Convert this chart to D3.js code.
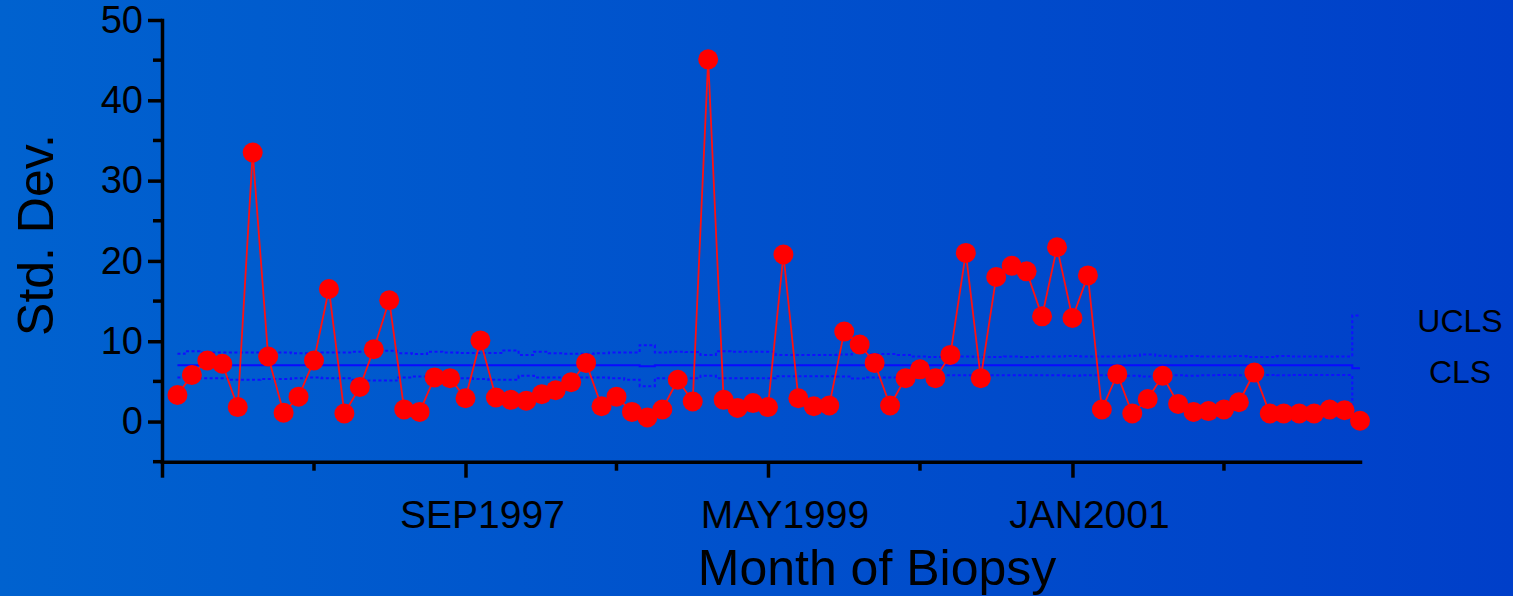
<!DOCTYPE html>
<html>
<head>
<meta charset="utf-8">
<script src="https://cdn.jsdelivr.net/npm/d3@7"></script>
<style>
  body { margin: 0; background: #0050ca; }
  text { font-family: "Liberation Sans", Arial, sans-serif; fill: #000; }
</style>
</head>
<body>
<div id="chart"></div>
<script>
// s-chart values, one subgroup per month (Feb 1996 .. Aug 2002)
const stdDev = [3.3, 5.8, 7.6, 7.2, 1.8, 33.5, 8.1, 1.1, 3.1, 7.6,
    16.5, 1.0, 4.3, 9.0, 15.1, 1.5, 1.2, 5.5, 5.4, 2.9,
    10.1, 3.0, 2.7, 2.6, 3.4, 3.9, 4.9, 7.3, 1.9, 3.1,
    1.2, 0.5, 1.5, 5.2, 2.5, 45.1, 2.7, 1.7, 2.3, 1.8,
    20.8, 2.9, 1.9, 2.0, 11.2, 9.6, 7.3, 2.0, 5.4, 6.5,
    5.4, 8.3, 21.0, 5.4, 18.0, 19.4, 18.7, 13.1, 21.7, 12.9,
    18.2, 1.5, 5.9, 1.0, 2.8, 5.7, 2.2, 1.2, 1.3, 1.5,
    2.4, 6.1, 1.0, 1.0, 1.0, 1.0, 1.5, 1.4, 0.1];

const upperLimit = [8.45, 8.75, 8.6, 8.6, 8.6, 8.6, 8.6, 8.6, 8.5, 8.5,
    8.6, 8.6, 8.7, 8.7, 8.8, 8.5, 8.4, 8.7, 8.6, 8.55,
    8.55, 8.55, 8.85, 8.3, 8.7, 8.5, 8.45, 8.45, 8.5, 8.6,
    8.6, 9.5, 8.6, 8.7, 8.65, 8.3, 8.75, 8.7, 8.7, 8.7,
    8.3, 8.3, 8.3, 8.3, 8.35, 8.85, 8.4, 8.4, 8.3, 8.1,
    8.05, 8.05, 8.1, 8.05, 8.05, 8.1, 8.05, 8.1, 8.1, 8.15,
    8.1, 8.1, 8.1, 8.2, 8.35, 8.2, 8.1, 8.15, 8.1, 8.1,
    8.15, 8.05, 8.05, 8.15, 8.1, 8.1, 8.1, 8.1, 13.2];

const centerLine = [7.0, 7.0, 7.0, 7.0, 7.0, 7.0, 7.0, 7.0, 7.0, 7.0,
    7.0, 7.0, 7.0, 7.0, 7.0, 7.0, 7.0, 7.0, 7.0, 7.0,
    7.0, 7.0, 7.0, 7.0, 7.0, 7.0, 7.0, 7.0, 7.0, 7.0,
    7.0, 6.9, 7.0, 7.0, 7.0, 7.0, 7.0, 7.0, 7.0, 7.0,
    7.0, 7.0, 7.0, 7.0, 7.0, 7.0, 7.0, 7.0, 7.0, 7.0,
    7.0, 7.0, 7.0, 7.0, 7.0, 7.0, 7.0, 7.0, 7.0, 7.0,
    7.0, 7.0, 7.0, 7.0, 7.0, 7.0, 7.0, 7.0, 7.0, 7.0,
    7.0, 7.0, 7.0, 7.0, 7.0, 7.0, 7.0, 7.0, 6.65];

const lowerLimit = [5.5, 5.5, 5.4, 5.4, 5.2, 5.2, 5.3, 5.3, 5.4, 5.5,
    5.4, 5.4, 5.2, 5.1, 5.1, 5.5, 5.6, 5.5, 5.5, 5.4,
    5.3, 5.2, 5.2, 5.7, 5.5, 5.5, 5.5, 5.5, 5.5, 5.4,
    5.2, 4.4, 5.4, 5.4, 5.4, 5.7, 5.4, 5.4, 5.4, 5.4,
    5.65, 5.65, 5.65, 5.65, 5.6, 5.35, 5.5, 5.5, 5.6, 5.75,
    5.75, 5.75, 5.75, 5.75, 5.75, 5.75, 5.75, 5.75, 5.75, 5.7,
    5.75, 5.75, 5.75, 5.7, 5.6, 5.7, 5.75, 5.7, 5.75, 5.8,
    5.75, 5.8, 5.8, 5.75, 5.8, 5.8, 5.8, 5.8, 0.2];

const firstMonth = new Date(1996, 1, 1);
const axisStart = new Date(1996, 0, 1);
const axisEnd = new Date(2002, 7, 1);
const majorTicks = [new Date(1996, 0, 1), new Date(1997, 8, 1), new Date(1999, 4, 1), new Date(2001, 0, 1)];
const minorTicks = [new Date(1996, 10, 1), new Date(1998, 6, 1), new Date(2000, 2, 1), new Date(2001, 10, 1)];
const labelledTicks = majorTicks.slice(1);
const yMajor = [0, 10, 20, 30, 40, 50];
const yMinor = [-5, 5, 15, 25, 35, 45];

const months = d3.timeMonth.range(firstMonth, d3.timeMonth.offset(firstMonth, stdDev.length));
const rows = months.map((m, i) => ({
    date: m, s: stdDev[i], ucl: upperLimit[i], cl: centerLine[i], lcl: lowerLimit[i]
}));

//Global set up
const W = 1513, H = 596;
const svg = d3.select("#chart").append("svg")
    .attr("width", W)
    .attr("height", H);

const grad = svg.append("defs").append("linearGradient")
    .attr("id", "bg")
    .attr("x1", "0%").attr("y1", "0%")
    .attr("x2", "100%").attr("y2", "0%");
grad.append("stop").attr("offset", "0%").attr("stop-color", "#0062cf");
grad.append("stop").attr("offset", "100%").attr("stop-color", "#003fc9");
svg.append("rect").attr("width", W).attr("height", H).attr("fill", "url(#bg)");

const x = d3.scaleTime()
    .domain([axisStart, axisEnd])
    .range([162, 1360]);

const y = d3.scaleLinear()
    .domain([-5, 50])
    .range([461.7, 20]);

//control limits, step lines
const step = key => d3.line()
    .curve(d3.curveStep)
    .x(d => x(d.date))
    .y(d => y(d[key]));

svg.append("path").datum(rows)
    .attr("fill", "none").attr("stroke", "#1010ff")
    .attr("stroke-width", 2).attr("stroke-dasharray", "3,2.5")
    .attr("d", step("ucl"));
svg.append("path").datum(rows)
    .attr("fill", "none").attr("stroke", "#1010ff")
    .attr("stroke-width", 2).attr("stroke-dasharray", "3,2.5")
    .attr("d", step("lcl"));
svg.append("path").datum(rows)
    .attr("fill", "none").attr("stroke", "#0a0aff")
    .attr("stroke-width", 2)
    .attr("d", step("cl"));

//series
const line = d3.line()
    .x(d => x(d.date))
    .y(d => y(d.s));

svg.append("path").datum(rows)
    .attr("fill", "none").attr("stroke", "#ff1010")
    .attr("stroke-width", 1.8)
    .attr("d", line);

svg.selectAll("circle.pt")
    .data(rows)
    .enter()
    .append("circle")
    .attr("class", "pt")
    .attr("cx", d => x(d.date))
    .attr("cy", d => y(d.s))
    .attr("r", 10)
    .attr("fill", "#ff0000");

//axes
const yAxisG = svg.append("g").attr("transform", `translate(${x.range()[0]},0)`);
yAxisG.call(d3.axisLeft(y).tickValues(yMajor).tickSize(14).tickSizeOuter(0)
    .tickPadding(5).tickFormat(d3.format("d")));
yAxisG.call(g => g.selectAll(".minor").data(yMinor).enter().append("line")
    .attr("class", "minor")
    .attr("x1", -9).attr("x2", 0)
    .attr("y1", d => y(d)).attr("y2", d => y(d))
    .attr("stroke", "#000").attr("stroke-width", 3.5));

const xAxisG = svg.append("g").attr("transform", `translate(0,${y.range()[0]})`);
xAxisG.call(d3.axisBottom(x).tickValues(majorTicks).tickSize(16).tickSizeOuter(0).tickFormat(""));
xAxisG.call(g => g.selectAll(".minor").data(minorTicks).enter().append("line")
    .attr("class", "minor")
    .attr("x1", d => x(d)).attr("x2", d => x(d))
    .attr("y1", 0).attr("y2", 9)
    .attr("stroke", "#000").attr("stroke-width", 3.5));

svg.selectAll(".domain").attr("stroke", "#000").attr("stroke-width", 3.5)
    .attr("stroke-linecap", "square");
svg.selectAll(".tick line").attr("stroke", "#000").attr("stroke-width", 3.5);
yAxisG.selectAll(".tick text")
    .attr("font-size", 38)
    .attr("font-family", "Liberation Sans, Arial, sans-serif")
    .attr("fill", "#000");

const fmt = d3.timeFormat("%b%Y");
xAxisG.selectAll(".xlab")
    .data(labelledTicks)
    .enter()
    .append("text")
    .attr("class", "xlab")
    .attr("x", d => x(d) + 17)
    .attr("y", 66)
    .attr("text-anchor", "middle")
    .attr("font-size", 39)
    .text(d => fmt(d).toUpperCase());

//titles
svg.append("text")
    .attr("x", 877).attr("y", 585)
    .attr("text-anchor", "middle")
    .attr("font-size", 50)
    .text("Month of Biopsy");

svg.append("text")
    .attr("transform", "translate(53,235) rotate(-90)")
    .attr("text-anchor", "middle")
    .attr("font-size", 50)
    .text("Std. Dev.");

const last = rows[rows.length - 1];
svg.append("text")
    .attr("x", 1460).attr("y", y(last.ucl)).attr("dy", 16)
    .attr("text-anchor", "middle")
    .attr("font-size", 32)
    .text("UCLS");
svg.append("text")
    .attr("x", 1460).attr("y", y(last.cl)).attr("dy", 15)
    .attr("text-anchor", "middle")
    .attr("font-size", 32)
    .text("CLS");
</script>
</body>
</html>
